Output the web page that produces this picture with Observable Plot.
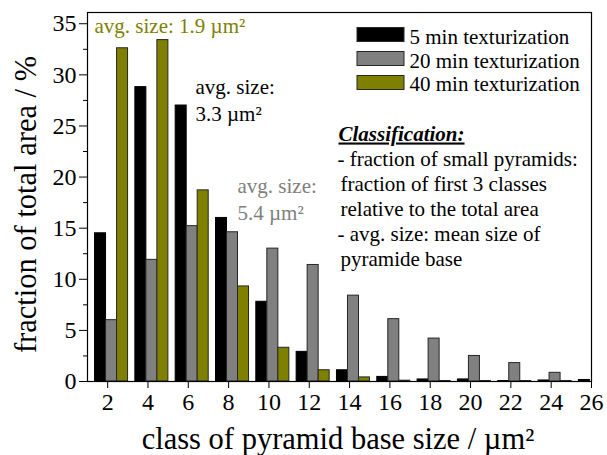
<!DOCTYPE html>
<html><head><meta charset="utf-8">
<script src="https://cdn.jsdelivr.net/npm/d3@7"></script>
<script src="https://cdn.jsdelivr.net/npm/@observablehq/plot@0.6"></script>
<style>body{margin:0;background:#fff}</style>
</head><body><div id="chart"></div>
<script>
// ---- data ----
const classes = [2, 4, 6, 8, 10, 12, 14, 16, 18, 20, 22, 24, 26];
const min5  = [14.5, 28.8, 27.0, 16.0, 7.8, 2.9, 1.1, 0.45, 0.2, 0.2, 0.05, 0.1, 0.15];
const min20 = [6.0, 11.9, 15.2, 14.6, 13.0, 11.4, 8.4, 6.1, 4.2, 2.5, 1.8, 0.85, 0];
const min40 = [32.6, 33.4, 18.7, 9.3, 3.3, 1.1, 0.4, 0.08, 0.05, 0.05, 0.05, 0.05, 0];
const seriesNames = ["5 min texturization", "20 min texturization", "40 min texturization"];
const xTicks = [2, 4, 6, 8, 10, 12, 14, 16, 18, 20, 22, 24, 26];
const yTicks = [0, 5, 10, 15, 20, 25, 30, 35];
const yMinorTicks = [2.5, 7.5, 12.5, 17.5, 22.5, 27.5, 32.5];
const xLabel = "class of pyramid base size / µm²";
const yLabel = "fraction of total area / %";
const annoTexts = ["avg. size: 1.9 µm²", "avg. size:", "3.3 µm²", "avg. size:", "5.4 µm²"];
const noteTexts = ["Classification:", "- fraction of small pyramids:", "fraction of first 3 classes",
  "relative to the total area", "- avg. size: mean size of", "pyramide base"];

// ---- layout / style ----
const W = 607, H = 455, mL = 87, mR = 16, mT = 12, mB = 74;
const xDomain = [1, 26], yDomain = [0, 36.1];
const colors = ["#000000", "#808080", "#808000"];
const strokes = ["#000000", "#262626", "#262626"];
const barOffset = -0.626, barW = 0.546;
const px2x = p => xDomain[0] + (p - mL) / (W - mL - mR) * (xDomain[1] - xDomain[0]);
const px2y = p => yDomain[0] + (H - mB - p) / (H - mT - mB) * (yDomain[1] - yDomain[0]);
const font = "'Liberation Serif', 'Times New Roman', serif";

const series = [min5, min20, min40];
const barMarks = series.map((arr, s) => Plot.rect(
  classes.map((c, i) => ({cls: c, value: arr[i]})),
  {x1: d => d.cls + barOffset + s * barW, x2: d => d.cls + barOffset + (s + 1) * barW,
   y1: 0, y2: "value", fill: colors[s], stroke: strokes[s], strokeWidth: 1, clip: true}));

// annotations (pixel layout -> data)
const annoPos = [[94, 32], [195, 93], [195, 120], [237, 192], [237, 219]];
const annoColors = ["#808000", "#000000", "#000000", "#808080", "#808080"];
const annoData = annoTexts.map((t, i) => ({x: px2x(annoPos[i][0]), y: px2y(annoPos[i][1]), t, c: annoColors[i]}));

const notePos = [[338, 140], [337, 165], [340, 190], [340, 215], [337, 240], [340, 265]];
const noteData = noteTexts.map((t, i) => ({x: px2x(notePos[i][0]), y: px2y(notePos[i][1]), t, first: i === 0}));

// legend
const legTop = [27.5, 51.5, 75.5], legH = 14, legX1 = 357, legX2 = 404, legTextX = 409, legBase = [43.5, 67, 90.5];
const legData = seriesNames.map((n, s) => ({
  x1: px2x(legX1), x2: px2x(legX2), y1: px2y(legTop[s] + legH), y2: px2y(legTop[s]),
  tx: px2x(legTextX), ty: px2y(legBase[s]), n, fill: colors[s]}));

const plot = Plot.plot({
  width: W, height: H, marginLeft: mL, marginRight: mR, marginTop: mT, marginBottom: mB,
  style: {fontFamily: font, fontSize: "21px", background: "#fff", color: "#000"},
  x: {domain: xDomain}, y: {domain: yDomain},
  marks: [
    ...barMarks,
    Plot.frame({stroke: "#000", strokeWidth: 1.2}),
    Plot.axisY({ticks: yTicks, tickSize: 8, tickPadding: 3, fontSize: 24, label: null}),
    Plot.axisY({ticks: yMinorTicks, tickSize: 4, text: null, label: null}),
    Plot.axisX({ticks: xTicks, tickSize: 7, tickPadding: 4, fontSize: 24, label: null}),
    Plot.text([yLabel], {text: d => d, frameAnchor: "left", rotate: -90, dx: -52, dy: 7.5,
      lineAnchor: "bottom", textAnchor: "middle", fontSize: 30.5}),
    Plot.text([xLabel], {text: d => d, frameAnchor: "bottom", dx: -1.5, dy: 67,
      lineAnchor: "bottom", textAnchor: "middle", fontSize: 30.5}),
    Plot.text(annoData, {x: "x", y: "y", text: "t", fill: d => d.c, textAnchor: "start", lineAnchor: "bottom", fontSize: 21}),
    Plot.text(noteData.filter(d => d.first), {x: "x", y: "y", text: "t", textAnchor: "start", lineAnchor: "bottom",
      fontSize: 21, fontWeight: "bold", fontStyle: "italic"}),
    Plot.text(noteData.filter(d => !d.first), {x: "x", y: "y", text: "t", textAnchor: "start", lineAnchor: "bottom", fontSize: 21}),
    Plot.rect(legData, {x1: "x1", x2: "x2", y1: "y1", y2: "y2", fill: d => d.fill, stroke: "#262626", strokeWidth: 1}),
    Plot.text(legData, {x: "tx", y: "ty", text: "n", textAnchor: "start", lineAnchor: "bottom", fontSize: 21})
  ]
});
d3.select(plot).selectAll("text").filter(function() { return this.textContent === "Classification:"; })
  .style("text-decoration", "underline");
document.getElementById("chart").appendChild(plot);
</script>
</body></html>
